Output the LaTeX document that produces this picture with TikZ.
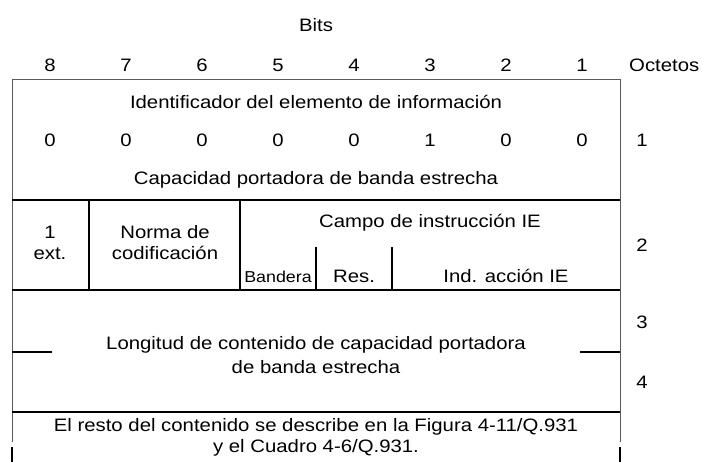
\documentclass[tikz,border=0pt]{standalone}
\usepackage{fontspec}
\setmainfont[FakeStretch=1.13]{Liberation Sans}
\usetikzlibrary{positioning}

\begin{document}
\begin{tikzpicture}[x=1pt,y=-1pt,
  lbl/.style={inner sep=0pt, align=center, font=\fontsize{18}{21}\selectfont},
  flag/.style={lbl, font=\fontsize{15.8}{18}\selectfont},
  frame/.style={draw=black!65, line width=0.9pt},
  rule/.style={draw=black, line width=1.4pt}]
\useasboundingbox (0,0) rectangle (702,462);
\node[lbl] (bits) at (316,25) {Bits};
\foreach \b[count=\x] in {8,7,6,5,4,3,2,1} {
   \node[lbl] (B\b) at (50+76*\x-76,65) {\b};
}
\node[lbl, anchor=west] (octetos) at (629,65) {Octetos};
\foreach \v[count=\x] in {0,0,0,0,0,1,0,0} {
   \node[lbl] (Z\x) at (50+76*\x-76,140) {\v};
}
\node[lbl] (ident) at (316,102) {Identificador del elemento de información};
\node[lbl] (capac) at (316,180) {Capacidad portadora de banda estrecha};
\node[lbl] (ext) at (50,243) {1\\ext.};
\node[lbl] (norma) at (165,243) {Norma de\\codificación};
\node[lbl] (campo) at (430,223) {Campo de instrucción IE};
\node[flag] (bandera) at (278,277) {Bandera};
\node[lbl] (res) at (354,276) {Res.};
\node[lbl] (accion) at (506,276) {Ind. acción IE};
\node[lbl, font=\fontsize{18}{24}\selectfont] (longitud) at (316,355) {Longitud de contenido de capacidad portadora\\de banda estrecha};
\node[lbl] (resto) at (316,437) {El resto del contenido se describe en la Figura 4-11/Q.931\\y el Cuadro 4-6/Q.931.};
\foreach \o/\y in {1/140,2/245,3/322,4/382} {
   \node[lbl] (O\o) at (642,\y) {\o};
}
% frame
\draw[frame] (12,442) -- (12,79) -- (620,79) -- (620,442);
\draw[rule] (12,447) -- (12,462);
\draw[rule] (620,447) -- (620,462);
% rows
\foreach \y in {200,290,412} {
  \draw[rule] (12,\y) -- (620,\y);
}
\draw[rule] (12,352) -- (52,352);
\draw[rule] (580,352) -- (620,352);
% octet 2 fields
\foreach \x/\t in {89/200,240/200,316/247,392/247} {
  \draw[rule] (\x,\t) -- (\x,290);
}
\end{tikzpicture}
\end{document}
